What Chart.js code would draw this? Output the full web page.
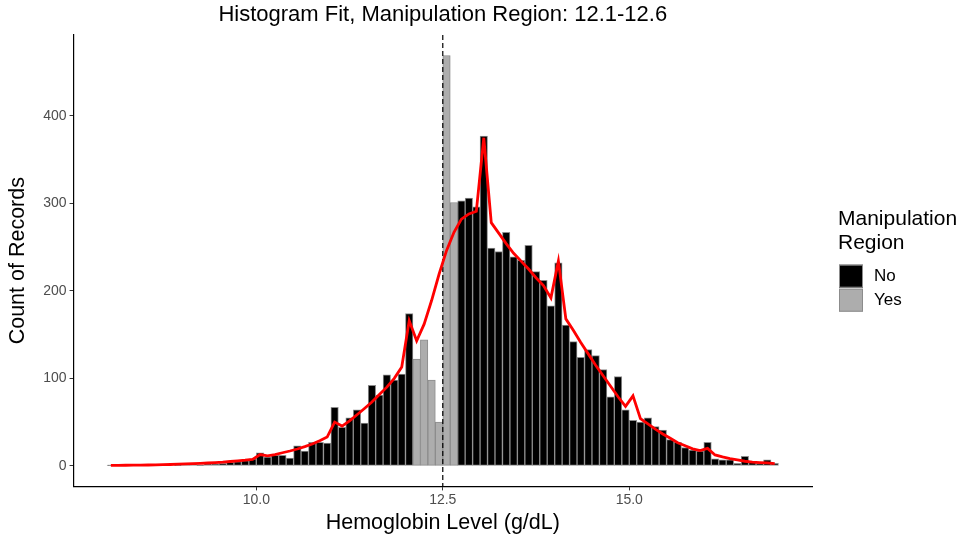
<!DOCTYPE html>
<html>
<head>
<meta charset="utf-8">
<script src="https://cdn.jsdelivr.net/npm/chart.js@4"></script>
<style>
  body { margin: 0; background: #fff; }
  #histChart { display: block; }
</style>
</head>
<body>
<canvas id="histChart" width="967" height="540"></canvas>
<script>
// Bins: lower edge in g/dL, width 0.1
const binWidth = 0.1;
const binLows = [
  8.0, 8.1, 8.2, 8.3, 8.4, 8.5, 8.6, 8.7, 8.8, 8.9,
  9.0, 9.1, 9.2, 9.3, 9.4, 9.5, 9.6, 9.7, 9.8, 9.9,
  10.0, 10.1, 10.2, 10.3, 10.4, 10.5, 10.6, 10.7, 10.8, 10.9,
  11.0, 11.1, 11.2, 11.3, 11.4, 11.5, 11.6, 11.7, 11.8, 11.9,
  12.0, 12.1, 12.2, 12.3, 12.4, 12.5, 12.6, 12.7, 12.8, 12.9,
  13.0, 13.1, 13.2, 13.3, 13.4, 13.5, 13.6, 13.7, 13.8, 13.9,
  14.0, 14.1, 14.2, 14.3, 14.4, 14.5, 14.6, 14.7, 14.8, 14.9,
  15.0, 15.1, 15.2, 15.3, 15.4, 15.5, 15.6, 15.7, 15.8, 15.9,
  16.0, 16.1, 16.2, 16.3, 16.4, 16.5, 16.6, 16.7, 16.8, 16.9
];

// Number of records in each bin
const counts = [
  1, 0, 0, 0, 0, 0, 0, 0, 0, 1,
  2, 2, 1, 2, 2, 3, 4, 5, 6, 8,
  15, 10, 12, 12, 9, 23, 17, 27, 27, 26,
  67, 44, 55, 64, 49, 92, 81, 104, 98, 105,
  174, 122, 144, 98, 50, 469, 301, 303, 306, 296,
  377, 249, 245, 267, 239, 235, 252, 222, 212, 183,
  232, 161, 142, 124, 133, 126, 110, 79, 102, 64,
  52, 50, 55, 45, 41, 30, 27, 21, 18, 17,
  27, 8, 7, 7, 3, 11, 5, 3, 7, 3
];

// Fitted counts at each bin centre
const fitValues = [
  0.5, 0.6, 0.7, 0.8, 0.9, 1.0, 1.2, 1.4, 1.6, 1.9,
  2.2, 2.5, 2.9, 3.3, 3.8, 4.3, 5.0, 5.7, 6.5, 7.5,
  13, 11.4, 13, 15, 17, 19.3, 22, 25, 28.8, 33,
  50, 45.5, 51.5, 58.4, 65.6, 73, 81.5, 90, 100, 113,
  166, 143, 162, 189, 219, 246, 267, 282, 288, 291,
  375, 278, 266, 254, 243, 234, 225, 215, 206, 192,
  234, 168, 155, 141, 128, 115, 103, 91, 79, 68,
  80, 54, 48, 42, 36.5, 31.5, 26.5, 23, 19.5, 17.5,
  20, 12.5, 10.2, 8.3, 6.8, 5.3, 4.2, 3.8, 3.4, 2.6
];

// Manipulation region (bin lower edges) and the cut-off marker
const regionLow = 12.1;
const regionHigh = 12.6;
const cutoff = 12.5;

const xTicks = [10, 12.5, 15];
const yTicks = [0, 100, 200, 300, 400];

const FONT = "'Liberation Sans', Arial, sans-serif";

const centres = binLows.map(b => +(b + binWidth / 2).toFixed(2));
const inRegion = b => b >= regionLow - 1e-9 && b <= regionHigh + 1e-9;

const noData = [];
const yesData = [];
binLows.forEach((b, i) => {
  const pt = { x: centres[i], y: counts[i] };
  if (inRegion(b)) yesData.push(pt); else noData.push(pt);
});
const fitData = centres.map((c, i) => ({ x: c, y: fitValues[i] }));

// dashed vertical line at the cut-off, drawn over the bars but under the fit
const cutoffLine = {
  id: 'cutoffLine',
  beforeDatasetDraw(chart, args) {
    if (args.index !== 2) return;
    const { ctx, chartArea, scales } = chart;
    const x = scales.x.getPixelForValue(cutoff);
    ctx.save();
    ctx.strokeStyle = '#000';
    ctx.lineWidth = 1.2;
    ctx.setLineDash([5, 3]);
    ctx.beginPath();
    ctx.moveTo(x, chartArea.top);
    ctx.lineTo(x, chartArea.bottom);
    ctx.stroke();
    ctx.restore();
  }
};

// legend on the right: two-line title plus a key for each bar dataset
const sideLegend = {
  id: 'sideLegend',
  afterDraw(chart) {
    const { ctx, chartArea } = chart;
    const left = chartArea.right + 26;
    const top = (chartArea.top + chartArea.bottom) / 2 - 51;
    ctx.save();
    ctx.fillStyle = '#000';
    ctx.textBaseline = 'middle';
    ctx.textAlign = 'left';
    ctx.font = '21px ' + FONT;
    ctx.fillText('Manipulation', left, top + 10);
    ctx.fillText('Region', left, top + 34);
    ctx.font = '17px ' + FONT;
    chart.data.datasets.slice(0, 2).forEach((ds, i) => {
      const y = top + 55 + i * 24;
      ctx.fillStyle = ds.backgroundColor;
      ctx.fillRect(left + 1, y, 24, 23);
      ctx.strokeStyle = ds.borderColor;
      ctx.lineWidth = 1;
      ctx.strokeRect(left + 1.5, y + 0.5, 23, 22);
      ctx.fillStyle = '#000';
      ctx.fillText(ds.label, left + 36, y + 12);
    });
    ctx.restore();
  }
};

const axisTicks = {
  color: '#4D4D4D',
  font: { family: FONT, size: 14 },
  padding: 1
};

new Chart(document.getElementById('histChart'), {
  type: 'bar',
  data: {
    datasets: [
      {
        label: 'No',
        data: noData,
        backgroundColor: '#000000',
        borderColor: '#8C8C8C',
        borderWidth: 1,
        borderSkipped: false,
        barPercentage: 1,
        categoryPercentage: 1,
        grouped: false,
        order: 2
      },
      {
        label: 'Yes',
        data: yesData,
        backgroundColor: '#ADADAD',
        borderColor: '#8C8C8C',
        borderWidth: 1,
        borderSkipped: false,
        barPercentage: 1,
        categoryPercentage: 1,
        grouped: false,
        order: 1
      },
      {
        type: 'line',
        label: 'Fit',
        data: fitData,
        borderColor: '#FF0000',
        borderWidth: 2.8,
        pointRadius: 0,
        tension: 0,
        fill: false,
        order: 0
      }
    ]
  },
  options: {
    responsive: false,
    animation: false,
    devicePixelRatio: 1,
    layout: { padding: { left: 2, right: 155, top: 0, bottom: 4 } },
    plugins: {
      legend: { display: false },
      tooltip: { enabled: false },
      title: {
        display: true,
        fullSize: false,
        text: 'Histogram Fit, Manipulation Region: 12.1-12.6',
        color: '#000',
        font: { family: FONT, size: 22, weight: 'normal' },
        padding: { top: 2, bottom: 6.6 }
      }
    },
    scales: {
      x: {
        type: 'linear',
        min: 7.55,
        max: 17.45,
        offset: false,
        afterBuildTicks: axis => { axis.ticks = xTicks.map(v => ({ value: v })); },
        ticks: { ...axisTicks, callback: v => v.toFixed(1), maxRotation: 0 },
        grid: { offset: false, drawOnChartArea: false, drawTicks: true, tickLength: 4, color: '#333333' },
        border: { display: true, color: '#000', width: 1.2 },
        title: {
          display: true,
          text: 'Hemoglobin Level (g/dL)',
          color: '#000',
          font: { family: FONT, size: 21.5 },
          padding: { top: 1, bottom: 0 }
        }
      },
      y: {
        min: -23.45,
        max: 492.45,
        afterBuildTicks: axis => { axis.ticks = yTicks.map(v => ({ value: v })); },
        ticks: { ...axisTicks, padding: 3 },
        grid: { drawOnChartArea: false, drawTicks: true, tickLength: 4, color: '#333333' },
        border: { display: true, color: '#000', width: 1.2 },
        title: {
          display: true,
          text: 'Count of Records',
          color: '#000',
          font: { family: FONT, size: 21.5 },
          padding: { top: 3, bottom: 9.4 }
        }
      }
    }
  },
  plugins: [cutoffLine, sideLegend]
});
</script>
</body>
</html>
